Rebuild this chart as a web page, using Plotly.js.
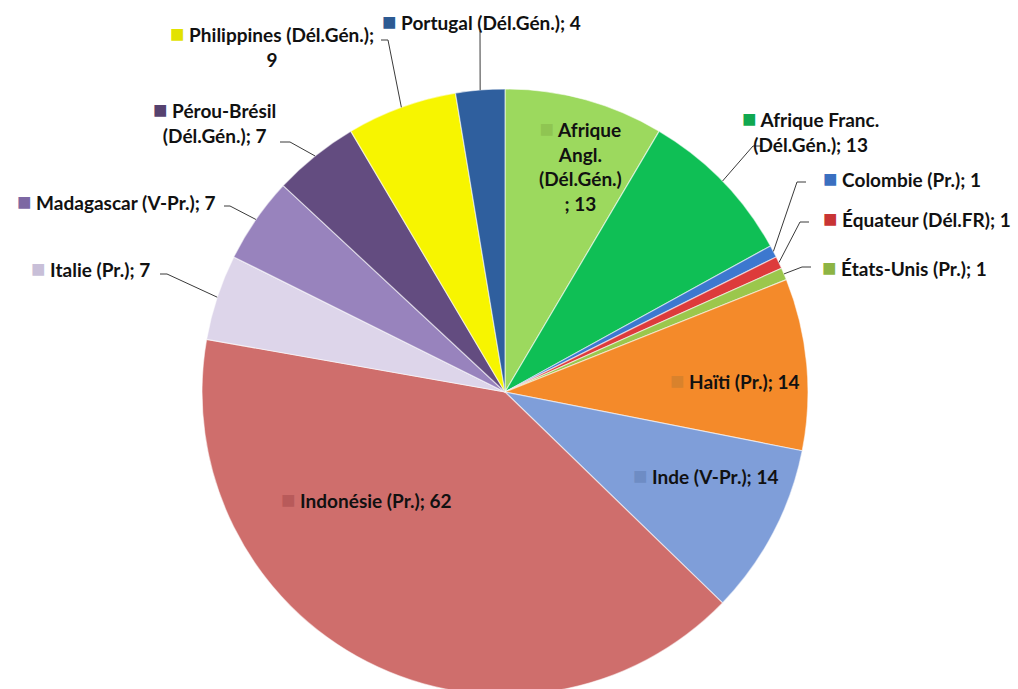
<!DOCTYPE html>
<html>
<head>
<meta charset="utf-8">
<script src="https://cdn.plot.ly/plotly-3.0.1.min.js"></script>
<style>html,body{margin:0;padding:0;overflow:hidden;background:#fff}</style>
</head>
<body>
<div id="chart" style="width:1018px;height:700px"></div>
<script>
// ---- data ----
const categories = [
  "Afrique Angl. (Dél.Gén.)", "Afrique Franc. (Dél.Gén.)", "Colombie (Pr.)",
  "Équateur (Dél.FR)", "États-Unis (Pr.)", "Haïti (Pr.)", "Inde (V-Pr.)",
  "Indonésie (Pr.)", "Italie (Pr.)", "Madagascar (V-Pr.)",
  "Pérou-Brésil (Dél.Gén.)", "Philippines (Dél.Gén.)", "Portugal (Dél.Gén.)"
];
const values = [13, 13, 1, 1, 1, 14, 14, 62, 7, 7, 7, 9, 4];
// label texts as broken in the reference
const labelTexts = [
  ["Afrique", "Angl.", "(Dél.Gén.)", "; 13"],
  ["Afrique Franc.", "(Dél.Gén.); 13"],
  ["Colombie (Pr.); 1"],
  ["Équateur (Dél.FR); 1"],
  ["États-Unis (Pr.); 1"],
  ["Haïti (Pr.); 14"],
  ["Inde (V-Pr.); 14"],
  ["Indonésie (Pr.); 62"],
  ["Italie (Pr.); 7"],
  ["Madagascar (V-Pr.); 7"],
  ["Pérou-Brésil", "(Dél.Gén.); 7"],
  ["Philippines (Dél.Gén.);", "9"],
  ["Portugal (Dél.Gén.); 4"]
];

// ---- styles / layout ----
const colors = ["#9cd95e", "#0fbf55", "#3c78cf", "#dd3b3b", "#9bc74c", "#f48a2a",
  "#7f9ed9", "#cf6e6c", "#ddd5ea", "#9883bd", "#634c80", "#f7f500", "#2f5f9e"];
const keyColors = ["#8fc552", "#10a850", "#3a6fc0", "#c83434", "#8db444", "#d9822c",
  "#6e8cc4", "#b85a5a", "#c8bfd8", "#7d68a3", "#56426f", "#e2e200", "#2d5a92"];
const W = 1018, H = 700;
const cx = 505, cy = 392, R = 303;
// label centres (px), and leader bend / stub points for outside labels
const labelPos = [
  [580, 164], [810, 129], [902, 178], [917, 218], [904, 266], [735, 379],
  [705, 474], [366, 498], [90, 268], [116, 200], [214, 121], [272, 45], [481, 20]
];
const leaders = [
  null, [[753, 146], [761, 146]], [[797, 182], [806, 182]], [[800, 222], [809, 222]],
  [[802, 267], [811, 267]], null, null, null,
  [[167, 274], [160, 274]], [[230, 206], [224, 206]], [[290, 142], [280, 142]],
  [[388, 40], [381, 40]], [[480, 31], [480, 31]]
];

const px = x => x / W;
const py = y => 1 - y / H;
const total = values.reduce((a, b) => a + b, 0);

const annotations = [];
const shapes = [];
let cum = 0;
values.forEach((v, i) => {
  const mid = (cum + v / 2) / total * 2 * Math.PI;
  cum += v;
  const ex = cx + R * Math.sin(mid), ey = cy - R * Math.cos(mid);
  const key = `<span style="color:${keyColors[i]};font-size:24px">■</span> `;
  const lines = labelTexts[i].slice();
  lines[0] = key + lines[0];
  annotations.push({
    xref: "paper", yref: "paper", x: px(labelPos[i][0]), y: py(labelPos[i][1]),
    xanchor: "center", yanchor: "middle", showarrow: false, align: "center",
    text: "<b>" + lines.join("<br>") + "</b>",
    font: {family: "Lato, 'Open Sans', sans-serif", size: 19, color: "#111"}
  });
  if (leaders[i]) {
    const [b, s] = leaders[i];
    shapes.push({
      type: "path", xref: "paper", yref: "paper",
      path: `M ${px(ex)} ${py(ey)} L ${px(b[0])} ${py(b[1])} L ${px(s[0])} ${py(s[1])}`,
      line: {color: "#3a3a3a", width: 1}
    });
  }
});

const trace = {
  type: "pie", labels: categories, values: values, sort: false,
  direction: "clockwise", rotation: 0, textinfo: "none", hoverinfo: "label+value",
  marker: {colors: colors, line: {color: "rgba(255,255,255,0.55)", width: 1.2}},
  domain: {x: [px(cx - R), px(cx + R)], y: [py(cy + R), py(cy - R)]},
  showlegend: false
};

Plotly.newPlot("chart", [trace], {
  width: W, height: H, margin: {l: 0, r: 0, t: 0, b: 0},
  paper_bgcolor: "#fff", showlegend: false,
  annotations: annotations, shapes: shapes
}, {staticPlot: true});
</script>
</body>
</html>
